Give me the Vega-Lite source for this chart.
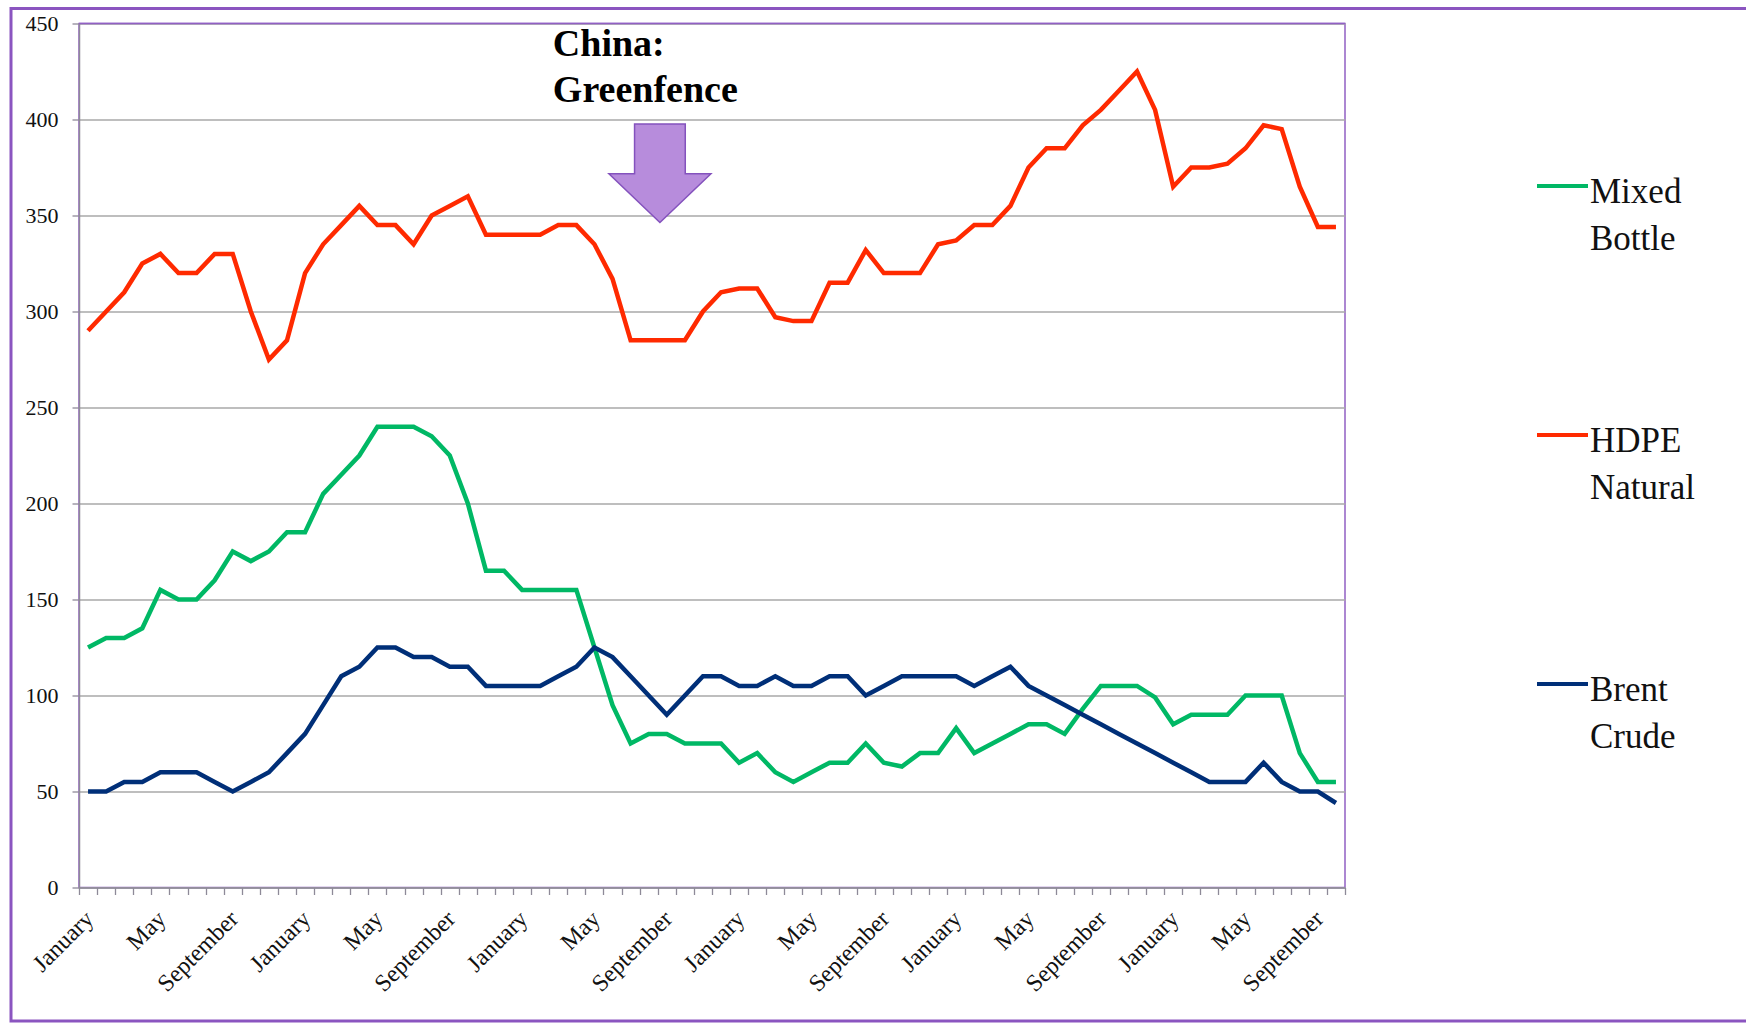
{
  "$schema": "https://vega.github.io/schema/vega-lite/v6.json",
  "width": 1266,
  "height": 864,
  "autosize": {"type": "none"},
  "padding": {"left": 79, "top": 23.5, "right": 401, "bottom": 136.5},
  "background": "white",
  "config": {
    "font": "Liberation Serif",
    "view": {"stroke": "#9160c4", "strokeWidth": 1.5}
  },
  "datasets": {
    "prices": [
      {"period":"2010-01","series":"Mixed Bottle","price":125},{"period":"2010-02","series":"Mixed Bottle","price":130},{"period":"2010-03","series":"Mixed Bottle","price":130},{"period":"2010-04","series":"Mixed Bottle","price":135},{"period":"2010-05","series":"Mixed Bottle","price":155},{"period":"2010-06","series":"Mixed Bottle","price":150},{"period":"2010-07","series":"Mixed Bottle","price":150},{"period":"2010-08","series":"Mixed Bottle","price":160},{"period":"2010-09","series":"Mixed Bottle","price":175},{"period":"2010-10","series":"Mixed Bottle","price":170},{"period":"2010-11","series":"Mixed Bottle","price":175},{"period":"2010-12","series":"Mixed Bottle","price":185},
      {"period":"2011-01","series":"Mixed Bottle","price":185},{"period":"2011-02","series":"Mixed Bottle","price":205},{"period":"2011-03","series":"Mixed Bottle","price":215},{"period":"2011-04","series":"Mixed Bottle","price":225},{"period":"2011-05","series":"Mixed Bottle","price":240},{"period":"2011-06","series":"Mixed Bottle","price":240},{"period":"2011-07","series":"Mixed Bottle","price":240},{"period":"2011-08","series":"Mixed Bottle","price":235},{"period":"2011-09","series":"Mixed Bottle","price":225},{"period":"2011-10","series":"Mixed Bottle","price":200},{"period":"2011-11","series":"Mixed Bottle","price":165},{"period":"2011-12","series":"Mixed Bottle","price":165},
      {"period":"2012-01","series":"Mixed Bottle","price":155},{"period":"2012-02","series":"Mixed Bottle","price":155},{"period":"2012-03","series":"Mixed Bottle","price":155},{"period":"2012-04","series":"Mixed Bottle","price":155},{"period":"2012-05","series":"Mixed Bottle","price":125},{"period":"2012-06","series":"Mixed Bottle","price":95},{"period":"2012-07","series":"Mixed Bottle","price":75},{"period":"2012-08","series":"Mixed Bottle","price":80},{"period":"2012-09","series":"Mixed Bottle","price":80},{"period":"2012-10","series":"Mixed Bottle","price":75},{"period":"2012-11","series":"Mixed Bottle","price":75},{"period":"2012-12","series":"Mixed Bottle","price":75},
      {"period":"2013-01","series":"Mixed Bottle","price":65},{"period":"2013-02","series":"Mixed Bottle","price":70},{"period":"2013-03","series":"Mixed Bottle","price":60},{"period":"2013-04","series":"Mixed Bottle","price":55},{"period":"2013-05","series":"Mixed Bottle","price":60},{"period":"2013-06","series":"Mixed Bottle","price":65},{"period":"2013-07","series":"Mixed Bottle","price":65},{"period":"2013-08","series":"Mixed Bottle","price":75},{"period":"2013-09","series":"Mixed Bottle","price":65},{"period":"2013-10","series":"Mixed Bottle","price":63},{"period":"2013-11","series":"Mixed Bottle","price":70},{"period":"2013-12","series":"Mixed Bottle","price":70},
      {"period":"2014-01","series":"Mixed Bottle","price":83},{"period":"2014-02","series":"Mixed Bottle","price":70},{"period":"2014-03","series":"Mixed Bottle","price":75},{"period":"2014-04","series":"Mixed Bottle","price":80},{"period":"2014-05","series":"Mixed Bottle","price":85},{"period":"2014-06","series":"Mixed Bottle","price":85},{"period":"2014-07","series":"Mixed Bottle","price":80},{"period":"2014-08","series":"Mixed Bottle","price":93},{"period":"2014-09","series":"Mixed Bottle","price":105},{"period":"2014-10","series":"Mixed Bottle","price":105},{"period":"2014-11","series":"Mixed Bottle","price":105},{"period":"2014-12","series":"Mixed Bottle","price":99},
      {"period":"2015-01","series":"Mixed Bottle","price":85},{"period":"2015-02","series":"Mixed Bottle","price":90},{"period":"2015-03","series":"Mixed Bottle","price":90},{"period":"2015-04","series":"Mixed Bottle","price":90},{"period":"2015-05","series":"Mixed Bottle","price":100},{"period":"2015-06","series":"Mixed Bottle","price":100},{"period":"2015-07","series":"Mixed Bottle","price":100},{"period":"2015-08","series":"Mixed Bottle","price":70},{"period":"2015-09","series":"Mixed Bottle","price":55},{"period":"2015-10","series":"Mixed Bottle","price":55},

      {"period":"2010-01","series":"HDPE Natural","price":290},{"period":"2010-02","series":"HDPE Natural","price":300},{"period":"2010-03","series":"HDPE Natural","price":310},{"period":"2010-04","series":"HDPE Natural","price":325},{"period":"2010-05","series":"HDPE Natural","price":330},{"period":"2010-06","series":"HDPE Natural","price":320},{"period":"2010-07","series":"HDPE Natural","price":320},{"period":"2010-08","series":"HDPE Natural","price":330},{"period":"2010-09","series":"HDPE Natural","price":330},{"period":"2010-10","series":"HDPE Natural","price":300},{"period":"2010-11","series":"HDPE Natural","price":275},{"period":"2010-12","series":"HDPE Natural","price":285},
      {"period":"2011-01","series":"HDPE Natural","price":320},{"period":"2011-02","series":"HDPE Natural","price":335},{"period":"2011-03","series":"HDPE Natural","price":345},{"period":"2011-04","series":"HDPE Natural","price":355},{"period":"2011-05","series":"HDPE Natural","price":345},{"period":"2011-06","series":"HDPE Natural","price":345},{"period":"2011-07","series":"HDPE Natural","price":335},{"period":"2011-08","series":"HDPE Natural","price":350},{"period":"2011-09","series":"HDPE Natural","price":355},{"period":"2011-10","series":"HDPE Natural","price":360},{"period":"2011-11","series":"HDPE Natural","price":340},{"period":"2011-12","series":"HDPE Natural","price":340},
      {"period":"2012-01","series":"HDPE Natural","price":340},{"period":"2012-02","series":"HDPE Natural","price":340},{"period":"2012-03","series":"HDPE Natural","price":345},{"period":"2012-04","series":"HDPE Natural","price":345},{"period":"2012-05","series":"HDPE Natural","price":335},{"period":"2012-06","series":"HDPE Natural","price":317},{"period":"2012-07","series":"HDPE Natural","price":285},{"period":"2012-08","series":"HDPE Natural","price":285},{"period":"2012-09","series":"HDPE Natural","price":285},{"period":"2012-10","series":"HDPE Natural","price":285},{"period":"2012-11","series":"HDPE Natural","price":300},{"period":"2012-12","series":"HDPE Natural","price":310},
      {"period":"2013-01","series":"HDPE Natural","price":312},{"period":"2013-02","series":"HDPE Natural","price":312},{"period":"2013-03","series":"HDPE Natural","price":297},{"period":"2013-04","series":"HDPE Natural","price":295},{"period":"2013-05","series":"HDPE Natural","price":295},{"period":"2013-06","series":"HDPE Natural","price":315},{"period":"2013-07","series":"HDPE Natural","price":315},{"period":"2013-08","series":"HDPE Natural","price":332},{"period":"2013-09","series":"HDPE Natural","price":320},{"period":"2013-10","series":"HDPE Natural","price":320},{"period":"2013-11","series":"HDPE Natural","price":320},{"period":"2013-12","series":"HDPE Natural","price":335},
      {"period":"2014-01","series":"HDPE Natural","price":337},{"period":"2014-02","series":"HDPE Natural","price":345},{"period":"2014-03","series":"HDPE Natural","price":345},{"period":"2014-04","series":"HDPE Natural","price":355},{"period":"2014-05","series":"HDPE Natural","price":375},{"period":"2014-06","series":"HDPE Natural","price":385},{"period":"2014-07","series":"HDPE Natural","price":385},{"period":"2014-08","series":"HDPE Natural","price":397},{"period":"2014-09","series":"HDPE Natural","price":405},{"period":"2014-10","series":"HDPE Natural","price":415},{"period":"2014-11","series":"HDPE Natural","price":425},{"period":"2014-12","series":"HDPE Natural","price":405},
      {"period":"2015-01","series":"HDPE Natural","price":365},{"period":"2015-02","series":"HDPE Natural","price":375},{"period":"2015-03","series":"HDPE Natural","price":375},{"period":"2015-04","series":"HDPE Natural","price":377},{"period":"2015-05","series":"HDPE Natural","price":385},{"period":"2015-06","series":"HDPE Natural","price":397},{"period":"2015-07","series":"HDPE Natural","price":395},{"period":"2015-08","series":"HDPE Natural","price":365},{"period":"2015-09","series":"HDPE Natural","price":344},{"period":"2015-10","series":"HDPE Natural","price":344},

      {"period":"2010-01","series":"Brent Crude","price":50},{"period":"2010-02","series":"Brent Crude","price":50},{"period":"2010-03","series":"Brent Crude","price":55},{"period":"2010-04","series":"Brent Crude","price":55},{"period":"2010-05","series":"Brent Crude","price":60},{"period":"2010-06","series":"Brent Crude","price":60},{"period":"2010-07","series":"Brent Crude","price":60},{"period":"2010-08","series":"Brent Crude","price":55},{"period":"2010-09","series":"Brent Crude","price":50},{"period":"2010-10","series":"Brent Crude","price":55},{"period":"2010-11","series":"Brent Crude","price":60},{"period":"2010-12","series":"Brent Crude","price":70},
      {"period":"2011-01","series":"Brent Crude","price":80},{"period":"2011-02","series":"Brent Crude","price":95},{"period":"2011-03","series":"Brent Crude","price":110},{"period":"2011-04","series":"Brent Crude","price":115},{"period":"2011-05","series":"Brent Crude","price":125},{"period":"2011-06","series":"Brent Crude","price":125},{"period":"2011-07","series":"Brent Crude","price":120},{"period":"2011-08","series":"Brent Crude","price":120},{"period":"2011-09","series":"Brent Crude","price":115},{"period":"2011-10","series":"Brent Crude","price":115},{"period":"2011-11","series":"Brent Crude","price":105},{"period":"2011-12","series":"Brent Crude","price":105},
      {"period":"2012-01","series":"Brent Crude","price":105},{"period":"2012-02","series":"Brent Crude","price":105},{"period":"2012-03","series":"Brent Crude","price":110},{"period":"2012-04","series":"Brent Crude","price":115},{"period":"2012-05","series":"Brent Crude","price":125},{"period":"2012-06","series":"Brent Crude","price":120},{"period":"2012-07","series":"Brent Crude","price":110},{"period":"2012-08","series":"Brent Crude","price":100},{"period":"2012-09","series":"Brent Crude","price":90},{"period":"2012-10","series":"Brent Crude","price":100},{"period":"2012-11","series":"Brent Crude","price":110},{"period":"2012-12","series":"Brent Crude","price":110},
      {"period":"2013-01","series":"Brent Crude","price":105},{"period":"2013-02","series":"Brent Crude","price":105},{"period":"2013-03","series":"Brent Crude","price":110},{"period":"2013-04","series":"Brent Crude","price":105},{"period":"2013-05","series":"Brent Crude","price":105},{"period":"2013-06","series":"Brent Crude","price":110},{"period":"2013-07","series":"Brent Crude","price":110},{"period":"2013-08","series":"Brent Crude","price":100},{"period":"2013-09","series":"Brent Crude","price":105},{"period":"2013-10","series":"Brent Crude","price":110},{"period":"2013-11","series":"Brent Crude","price":110},{"period":"2013-12","series":"Brent Crude","price":110},
      {"period":"2014-01","series":"Brent Crude","price":110},{"period":"2014-02","series":"Brent Crude","price":105},{"period":"2014-03","series":"Brent Crude","price":110},{"period":"2014-04","series":"Brent Crude","price":115},{"period":"2014-05","series":"Brent Crude","price":105},{"period":"2014-06","series":"Brent Crude","price":100},{"period":"2014-07","series":"Brent Crude","price":95},{"period":"2014-08","series":"Brent Crude","price":90},{"period":"2014-09","series":"Brent Crude","price":85},{"period":"2014-10","series":"Brent Crude","price":80},{"period":"2014-11","series":"Brent Crude","price":75},{"period":"2014-12","series":"Brent Crude","price":70},
      {"period":"2015-01","series":"Brent Crude","price":65},{"period":"2015-02","series":"Brent Crude","price":60},{"period":"2015-03","series":"Brent Crude","price":55},{"period":"2015-04","series":"Brent Crude","price":55},{"period":"2015-05","series":"Brent Crude","price":55},{"period":"2015-06","series":"Brent Crude","price":65},{"period":"2015-07","series":"Brent Crude","price":55},{"period":"2015-08","series":"Brent Crude","price":50},{"period":"2015-09","series":"Brent Crude","price":50},{"period":"2015-10","series":"Brent Crude","price":44}
    ],
    "arrow": [{"period": "2012-09", "price": 372}],
    "note": [{"period": "2012-03", "price": 433, "label": "China:\nGreenfence"}],
    "frame": [{"left": -3.76, "right": 96, "top": 457.8, "bottom": -69.5}],
    "border": [{"price": 450}]
  },
  "layer": [
    {
      "data": {"name": "frame"},
      "mark": {"type": "rect", "filled": false, "stroke": "#8b55c0", "strokeWidth": 3, "clip": false},
      "encoding": {
        "x": {"field": "left", "type": "quantitative", "scale": {"domain": [0, 70], "nice": false, "zero": false}, "axis": null},
        "x2": {"field": "right"},
        "y": {"field": "top", "type": "quantitative", "scale": {"domain": [0, 450], "nice": false}, "axis": null},
        "y2": {"field": "bottom"}
      }
    },
    {
      "layer": [
        {
          "data": {"name": "prices"},
          "mark": {"type": "line", "strokeWidth": 4.5},
          "encoding": {
            "x": {
              "field": "period", "type": "ordinal",
              "scale": {"type": "band", "paddingInner": 0, "paddingOuter": 0},
              "axis": {
                "orient": "bottom",
                "title": null, "labelAngle": -45, "labelOverlap": false,
                "labelExpr": "slice(''+datum.value,5)=='01' ? 'January' : slice(''+datum.value,5)=='05' ? 'May' : slice(''+datum.value,5)=='09' ? 'September' : ''",
                "tickBand": "extent",
                "tickSize": 7, "tickColor": "#8e8a98", "tickWidth": 1.3,
                "domainColor": "#8e8a98", "domainWidth": 1.5,
                "labelFont": "Liberation Serif", "labelFontSize": 24, "labelColor": "#111111", "labelPadding": 12, "labelOffset": -7,
                "grid": false
              }
            },
            "y": {
              "field": "price", "type": "quantitative",
              "scale": {"domain": [0, 450], "nice": false},
              "axis": {
                "orient": "left",
                "title": null, "values": [0, 50, 100, 150, 200, 250, 300, 350, 400, 450],
                "grid": true, "gridColor": "#a8a8a8",
                "gridWidth": 1.3,
                "tickSize": 7, "tickColor": "#8e8a98", "tickWidth": 1.3,
                "domainColor": "#8e8a98", "domainWidth": 1.5,
                "labelFont": "Liberation Serif", "labelFontSize": 22, "labelColor": "#111111", "labelPadding": 14
              }
            },
            "color": {
              "field": "series", "type": "nominal",
              "scale": {"domain": ["Mixed Bottle", "HDPE Natural", "Brent Crude"], "range": ["#00b865", "#ff2a00", "#002f78"]},
              "legend": {
                "title": null, "orient": "none", "legendX": 1456, "legendY": 135,
                "symbolType": "stroke", "symbolSize": 2601, "symbolStrokeWidth": 4,
                "labelFont": "Liberation Serif", "labelFontSize": 35, "labelColor": "#111111",
                "labelOffset": 0, "labelLimit": 400, "rowPadding": 150, "labelBaseline": "alphabetic",
                "encode": {"labels": {"update": {"lineBreak": {"value": " "}, "lineHeight": {"value": 47}, "dy": {"value": 17}}}}
              }
            }
          }
        },
        {
          "data": {"name": "border"},
          "mark": {"type": "rule", "color": "#9160c4", "strokeWidth": 1.5},
          "encoding": {
            "y": {"field": "price", "type": "quantitative", "scale": {"domain": [0, 450], "nice": false}}
          }
        },
        {
          "data": {"name": "arrow"},
          "mark": {
            "type": "point", "filled": true, "fill": "#b78cdc", "stroke": "#8452bd", "strokeWidth": 1.5, "opacity": 1,
            "size": 10404,
            "shape": "M-0.497,-0.965L0.497,-0.965L0.497,0.01L1,0.01L0,0.965L-1,0.01L-0.497,0.01Z"
          },
          "encoding": {
            "x": {"field": "period", "type": "ordinal", "bandPosition": 0.12},
            "y": {"field": "price", "type": "quantitative", "scale": {"domain": [0, 450], "nice": false}}
          }
        },
        {
          "data": {"name": "note"},
          "mark": {"type": "text", "align": "left", "baseline": "alphabetic", "font": "Liberation Serif", "fontSize": 38, "fontWeight": "bold", "color": "#000000", "lineBreak": "\n", "lineHeight": 46},
          "encoding": {
            "x": {"field": "period", "type": "ordinal", "bandPosition": 0.2},
            "y": {"field": "price", "type": "quantitative", "scale": {"domain": [0, 450], "nice": false}},
            "text": {"field": "label"}
          }
        }
      ]
    }
  ],
  "resolve": {"scale": {"x": "independent", "y": "independent"}}
}
